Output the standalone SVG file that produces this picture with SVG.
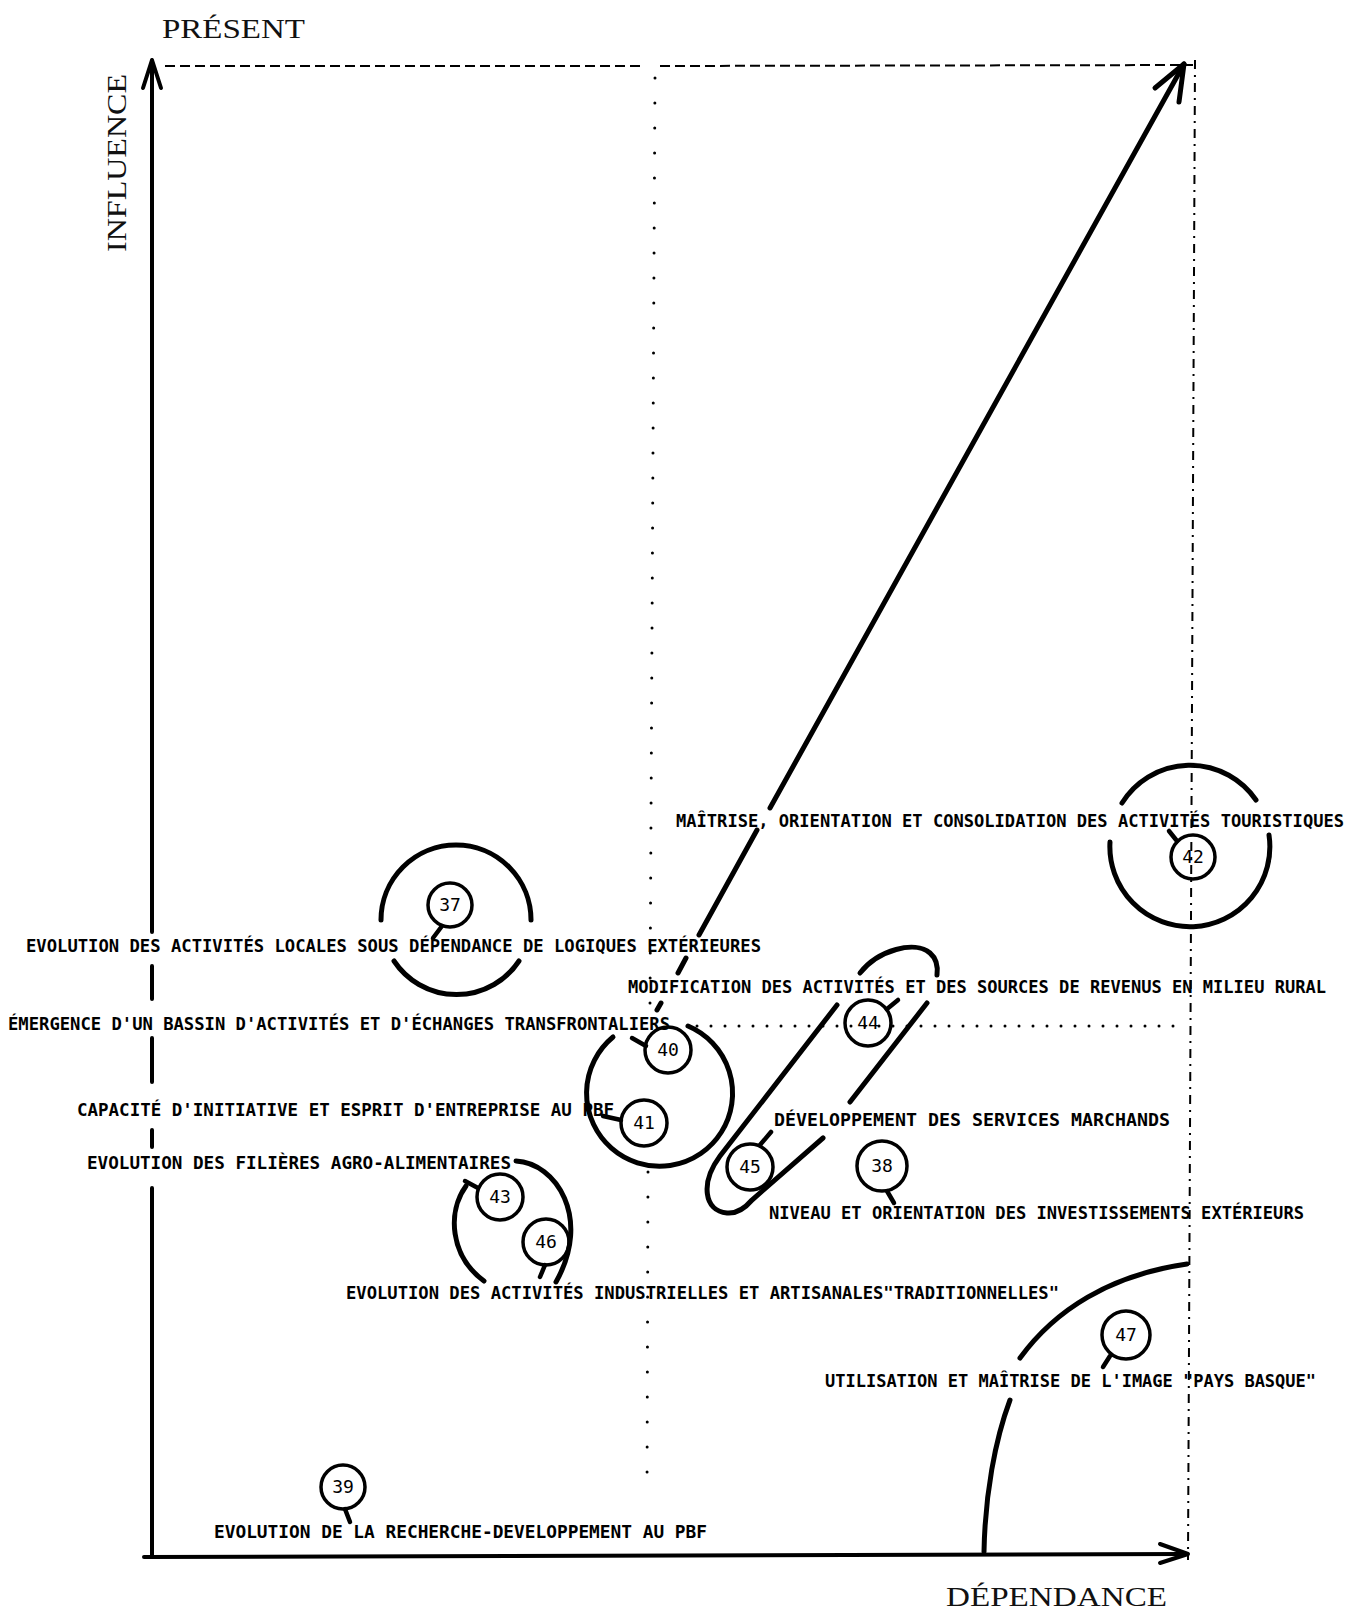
<svg xmlns="http://www.w3.org/2000/svg" width="1362" height="1612" viewBox="0 0 1362 1612">
<style>
.bg{fill:#fff}
.ax{font-family:"Liberation Serif","DejaVu Serif",serif;font-size:28px;fill:#111}
.lbl{font-family:"DejaVu Sans Mono","Liberation Mono",monospace;font-size:18px;font-weight:bold;fill:#000}
.num{font-family:"DejaVu Sans Mono","Liberation Mono",monospace;font-size:18px;fill:#000;text-anchor:middle}
.axis{fill:none;stroke:#000;stroke-width:4;stroke-linecap:round;stroke-linejoin:round}
.dash{fill:none;stroke:#000;stroke-width:2;stroke-dasharray:10 5}
.dashdot{fill:none;stroke:#000;stroke-width:2;stroke-dasharray:9 6 2 6}
.dotv{fill:none;stroke:#000;stroke-width:3;stroke-linecap:round;stroke-dasharray:0 25}
.doth{fill:none;stroke:#000;stroke-width:3;stroke-linecap:round;stroke-dasharray:0 14}
.c{fill:none;stroke:#000;stroke-width:3.5}
.tail{fill:none;stroke:#000;stroke-width:4.5;stroke-linecap:round}
.arc{fill:none;stroke:#000;stroke-width:5;stroke-linecap:round}
.arrow{fill:none;stroke:#000;stroke-width:5;stroke-linecap:round;stroke-linejoin:round}
</style>
<rect class="bg" x="0" y="0" width="1362" height="1612"/>

<g id="axes">
  <text class="ax" x="162" y="38" textLength="143" lengthAdjust="spacingAndGlyphs">PRÉSENT</text>
  <text class="ax" transform="translate(126,252) rotate(-90)" x="0" y="0" textLength="178" lengthAdjust="spacingAndGlyphs">INFLUENCE</text>
  <text class="ax" x="946" y="1606" textLength="221" lengthAdjust="spacingAndGlyphs">DÉPENDANCE</text>
  <path class="dash" d="M 165 66 L 645 66 M 660 66 L 1193 65"/>
  <path class="dashdot" d="M 1195 60 L 1188 1560"/>
  <path class="dotv" d="M 655 78 L 650 1003 M 648 1172 L 647 1490"/>
  <path class="doth" d="M 697 1026 L 1185 1026"/>
  <path class="axis" d="M 152 1557 L 152 1188 M 152 1147 L 152 1130 M 152 1082 L 152 1038 M 152 999 L 152 966 M 152 932 L 152 61"/>
  <path class="axis" d="M 143 88 L 152 60 L 161 88"/>
  <path class="axis" d="M 144 1557 L 1186 1554"/>
  <path class="axis" d="M 1160 1544 L 1188 1554 L 1160 1563"/>
</g>

<g id="connectors">
  <path class="arrow" d="M 657 1010 L 661 1003 M 678 973 L 686 958 M 699 935 L 757 830 M 770 808 L 1184 64"/>
  <path class="arrow" d="M 1155 88 L 1184 64 L 1179 102"/>
</g>

<g id="node-37">
  <path class="arc" d="M 381 920 A 75 75 0 1 1 531 920"/>
  <path class="arc" d="M 519 961 A 75 75 0 0 1 394 961"/>
  <circle class="c" cx="450" cy="905" r="22"/>
  <text class="num" x="450" y="911">37</text>
  <path class="tail" d="M 442 926 L 433 938"/>
  <text class="lbl" x="26" y="952" textLength="735" lengthAdjust="spacingAndGlyphs">EVOLUTION DES ACTIVITÉS LOCALES SOUS DÉPENDANCE DE LOGIQUES EXTÉRIEURES</text>
</g>

<g id="node-42">
  <path class="arc" d="M 1122 803 A 80 80 0 0 1 1256 800"/>
  <path class="arc" d="M 1269 835 A 80 80 0 1 1 1110 842"/>
  <circle class="c" cx="1193" cy="857" r="22"/>
  <text class="num" x="1193" y="863">42</text>
  <path class="tail" d="M 1177 841 L 1169 831"/>
  <text class="lbl" x="676" y="827" textLength="668" lengthAdjust="spacingAndGlyphs">MAÎTRISE, ORIENTATION ET CONSOLIDATION DES ACTIVITÉS TOURISTIQUES</text>
</g>

<g id="group-40-41">
  <path class="arc" d="M 688 1026 A 73 73 0 1 1 613 1037"/>
</g>

<g id="node-40">
  <circle class="c" cx="668" cy="1050" r="23"/>
  <text class="num" x="668" y="1056">40</text>
  <path class="tail" d="M 646 1046 L 632 1038"/>
  <text class="lbl" x="8" y="1030" textLength="662" lengthAdjust="spacingAndGlyphs">ÉMERGENCE D'UN BASSIN D'ACTIVITÉS ET D'ÉCHANGES TRANSFRONTALIERS</text>
</g>

<g id="node-41">
  <circle class="c" cx="644" cy="1123" r="23"/>
  <text class="num" x="644" y="1129">41</text>
  <path class="tail" d="M 621 1120 L 603 1116"/>
  <text class="lbl" x="77" y="1116" textLength="537" lengthAdjust="spacingAndGlyphs">CAPACITÉ D'INITIATIVE ET ESPRIT D'ENTREPRISE AU PBF</text>
</g>

<g id="group-44-45">
  <path class="arc" d="M 837 1005 L 720 1156 C 700 1183 704 1211 727 1213 C 738 1214 746 1207 752 1200 L 823 1138"/>
  <path class="arc" d="M 860 973 C 878 950 915 940 930 953 C 937 959 938 967 937 975"/>
  <path class="arc" d="M 927 1003 L 850 1102"/>
</g>

<g id="node-44">
  <circle class="c" cx="868" cy="1023" r="23"/>
  <text class="num" x="868" y="1029">44</text>
  <path class="tail" d="M 887 1009 L 898 1000"/>
  <text class="lbl" x="628" y="993" textLength="698" lengthAdjust="spacingAndGlyphs">MODIFICATION DES ACTIVITÉS ET DES SOURCES DE REVENUS EN MILIEU RURAL</text>
</g>

<g id="node-45">
  <circle class="c" cx="750" cy="1167" r="23"/>
  <text class="num" x="750" y="1173">45</text>
  <path class="tail" d="M 760 1145 L 771 1132"/>
  <text class="lbl" x="774" y="1126" textLength="396" lengthAdjust="spacingAndGlyphs">DÉVELOPPEMENT DES SERVICES MARCHANDS</text>
</g>

<g id="node-38">
  <circle class="c" cx="882" cy="1166" r="25"/>
  <text class="num" x="882" y="1172">38</text>
  <path class="tail" d="M 887 1191 L 894 1203"/>
  <text class="lbl" x="769" y="1219" textLength="535" lengthAdjust="spacingAndGlyphs">NIVEAU ET ORIENTATION DES INVESTISSEMENTS EXTÉRIEURS</text>
</g>

<g id="group-43-46">
  <path class="arc" d="M 466 1186 C 447 1212 450 1256 484 1281"/>
  <path class="arc" d="M 516 1161 C 556 1163 592 1218 556 1282"/>
</g>

<g id="node-43">
  <circle class="c" cx="500" cy="1197" r="23"/>
  <text class="num" x="500" y="1203">43</text>
  <path class="tail" d="M 478 1188 L 465 1181"/>
  <text class="lbl" x="87" y="1169" textLength="424" lengthAdjust="spacingAndGlyphs">EVOLUTION DES  FILIÈRES AGRO-ALIMENTAIRES</text>
</g>

<g id="node-46">
  <circle class="c" cx="546" cy="1242" r="23"/>
  <text class="num" x="546" y="1248">46</text>
  <path class="tail" d="M 545 1265 L 540 1277"/>
  <text class="lbl" x="346" y="1299" textLength="713" lengthAdjust="spacingAndGlyphs">EVOLUTION DES ACTIVITÉS INDUSTRIELLES ET ARTISANALES"TRADITIONNELLES"</text>
</g>

<g id="node-47">
  <path class="arc" d="M 1020 1358 C 1055 1310 1110 1275 1187 1264"/>
  <path class="arc" d="M 1010 1400 C 995 1440 985 1495 984 1552"/>
  <circle class="c" cx="1126" cy="1335" r="24"/>
  <text class="num" x="1126" y="1341">47</text>
  <path class="tail" d="M 1110 1356 L 1103 1367"/>
  <text class="lbl" x="825" y="1387" textLength="491" lengthAdjust="spacingAndGlyphs">UTILISATION ET MAÎTRISE DE L'IMAGE "PAYS BASQUE"</text>
</g>

<g id="node-39">
  <circle class="c" cx="343" cy="1487" r="22"/>
  <text class="num" x="343" y="1493">39</text>
  <path class="tail" d="M 345 1509 L 350 1522"/>
  <text class="lbl" x="214" y="1538" textLength="493" lengthAdjust="spacingAndGlyphs">EVOLUTION DE LA RECHERCHE-DEVELOPPEMENT AU PBF</text>
</g>
</svg>
